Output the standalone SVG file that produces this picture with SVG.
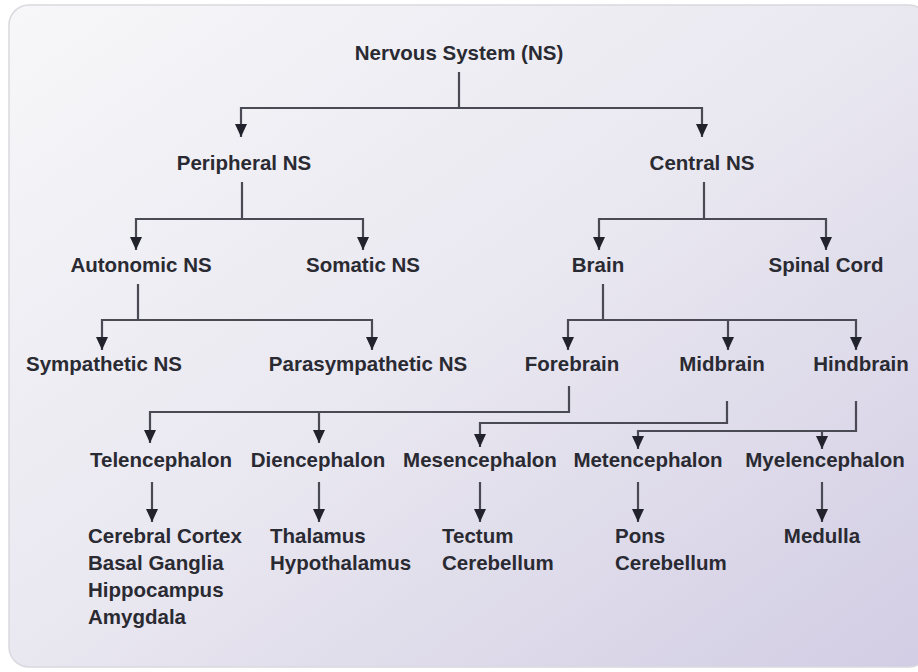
<svg xmlns="http://www.w3.org/2000/svg" width="918" height="672" viewBox="0 0 918 672">
<defs>
<linearGradient id="bg" x1="0" y1="0" x2="1" y2="1">
<stop offset="0" stop-color="#f7f7f9"/>
<stop offset="0.5" stop-color="#e9e7f0"/>
<stop offset="1" stop-color="#d2cde4"/>
</linearGradient>
<marker id="ah" viewBox="0 0 13 12" refX="13" refY="6" markerWidth="13" markerHeight="12" markerUnits="userSpaceOnUse" orient="auto">
<path d="M0,0 L13,6 L0,12 Z" fill="#22222c"/>
</marker>
<style>
text{font-family:"Liberation Sans",Arial,sans-serif;font-weight:bold;font-size:20.5px;fill:#2a2a32}
.c{text-anchor:middle}
.l{stroke:#4a4a54;stroke-width:2.2;fill:none}
.a{marker-end:url(#ah)}
</style>
</defs>
<rect x="0" y="0" width="918" height="672" fill="#ffffff"/>
<rect x="9" y="5" width="920" height="662" rx="20" fill="url(#bg)" stroke="#d9d9de" stroke-width="1.5"/>

<g id="connectors">
<path class="l" d="M459,72 V108 M241,108 H702"/>
<path class="l a" d="M241,107 V137"/>
<path class="l a" d="M702,107 V137"/>
<path class="l" d="M242,182 V219 M136,219 H363"/>
<path class="l a" d="M136,218 V250"/>
<path class="l a" d="M363,218 V250"/>
<path class="l" d="M704,182 V219 M599,219 H826"/>
<path class="l a" d="M599,218 V250"/>
<path class="l a" d="M826,218 V250"/>
<path class="l" d="M138,284 V320 M102,320 H372"/>
<path class="l a" d="M102,319 V350"/>
<path class="l a" d="M372,319 V350"/>
<path class="l" d="M603,284 V320 M568,320 H856"/>
<path class="l a" d="M568,319 V350"/>
<path class="l a" d="M728,319 V350"/>
<path class="l a" d="M856,319 V350"/>
<path class="l" d="M569,386 V412 H150"/>
<path class="l a" d="M150,411 V443"/>
<path class="l a" d="M319,411 V443"/>
<path class="l a" d="M727,401 V423 H480 V447"/>
<path class="l" d="M856,401 V431 H638"/>
<path class="l a" d="M638,430 V449"/>
<path class="l a" d="M822,430 V449"/>
<path class="l a" d="M152,482 V522"/>
<path class="l a" d="M319,482 V522"/>
<path class="l a" d="M480,482 V522"/>
<path class="l a" d="M638,482 V522"/>
<path class="l a" d="M822,482 V522"/>
</g>

<g id="ns"><text class="c" x="459" y="60">Nervous System (NS)</text></g>
<g id="pns"><text class="c" x="244" y="170">Peripheral NS</text></g>
<g id="cns"><text class="c" x="702" y="170">Central NS</text></g>
<g id="autonomic"><text class="c" x="141" y="272">Autonomic NS</text></g>
<g id="somatic"><text class="c" x="363" y="272">Somatic NS</text></g>
<g id="brain"><text class="c" x="598" y="272">Brain</text></g>
<g id="spinal"><text class="c" x="826" y="272">Spinal Cord</text></g>
<g id="sympathetic"><text class="c" x="104" y="371">Sympathetic NS</text></g>
<g id="parasympathetic"><text class="c" x="368" y="371">Parasympathetic NS</text></g>
<g id="forebrain"><text class="c" x="572" y="371">Forebrain</text></g>
<g id="midbrain"><text class="c" x="722" y="371">Midbrain</text></g>
<g id="hindbrain"><text class="c" x="861" y="371">Hindbrain</text></g>
<g id="telencephalon"><text class="c" x="161" y="467">Telencephalon</text></g>
<g id="diencephalon"><text class="c" x="318" y="467">Diencephalon</text></g>
<g id="mesencephalon"><text class="c" x="480" y="467">Mesencephalon</text></g>
<g id="metencephalon"><text class="c" x="648" y="467">Metencephalon</text></g>
<g id="myelencephalon"><text class="c" x="825" y="467">Myelencephalon</text></g>
<g id="tel-parts"><text x="88" y="543">Cerebral Cortex</text><text x="88" y="570">Basal Ganglia</text><text x="88" y="597">Hippocampus</text><text x="88" y="624">Amygdala</text></g>
<g id="di-parts"><text x="270" y="543">Thalamus</text><text x="270" y="570">Hypothalamus</text></g>
<g id="mes-parts"><text x="442" y="543">Tectum</text><text x="442" y="570">Cerebellum</text></g>
<g id="met-parts"><text x="615" y="543">Pons</text><text x="615" y="570">Cerebellum</text></g>
<g id="my-parts"><text class="c" x="822" y="543">Medulla</text></g>
</svg>
